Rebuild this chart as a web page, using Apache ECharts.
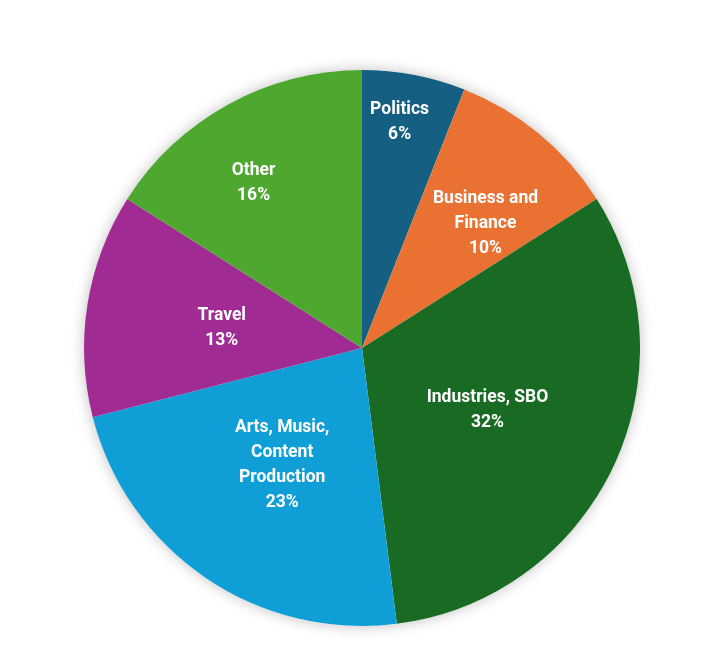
<!DOCTYPE html>
<html><head><meta charset="utf-8">
<script src="https://cdn.jsdelivr.net/npm/echarts@6/dist/echarts.min.js"></script>
<style>html,body{margin:0;padding:0;background:#fff}#c{width:718px;height:646px}</style>
</head><body><div id="c"></div>
<script>
const categories = ["Politics", "Business and\nFinance", "Industries, SBO", "Arts, Music,\nContent\nProduction", "Travel", "Other"];
const values = [6, 10, 32, 23, 13, 16];
const colors = ["#156082", "#E97132", "#196B24", "#0F9ED5", "#A02B93", "#4EA72E"];
const labelOffsets = [[11, -86], [33, -15], [-3, 2], [0, 0], [0, 2], [-40, -40]];

const chart = echarts.init(document.getElementById('c'));
chart.setOption({
  animation: false,
  series: [
    {
      type: 'pie', silent: true, center: [362, 348], radius: 278,
      label: {show: false}, labelLine: {show: false},
      itemStyle: {color: '#fff', shadowBlur: 14, shadowColor: 'rgba(0,0,0,0.25)'},
      data: [{value: 1}]
    },
    {
      type: 'pie', center: [362, 348], radius: 278, startAngle: 90, clockwise: true,
      percentPrecision: 0,
      itemStyle: {borderWidth: 0},
      label: {
        position: 'inside', color: '#fff', fontFamily: 'Roboto', fontWeight: 'bold',
        fontSize: 17.5, lineHeight: 25, formatter: '{b}\n{d}%'
      },
      data: categories.map((n, i) => ({
        name: n, value: values[i],
        itemStyle: {color: colors[i]},
        label: {offset: labelOffsets[i]}
      }))
    }
  ]
});
</script></body></html>
